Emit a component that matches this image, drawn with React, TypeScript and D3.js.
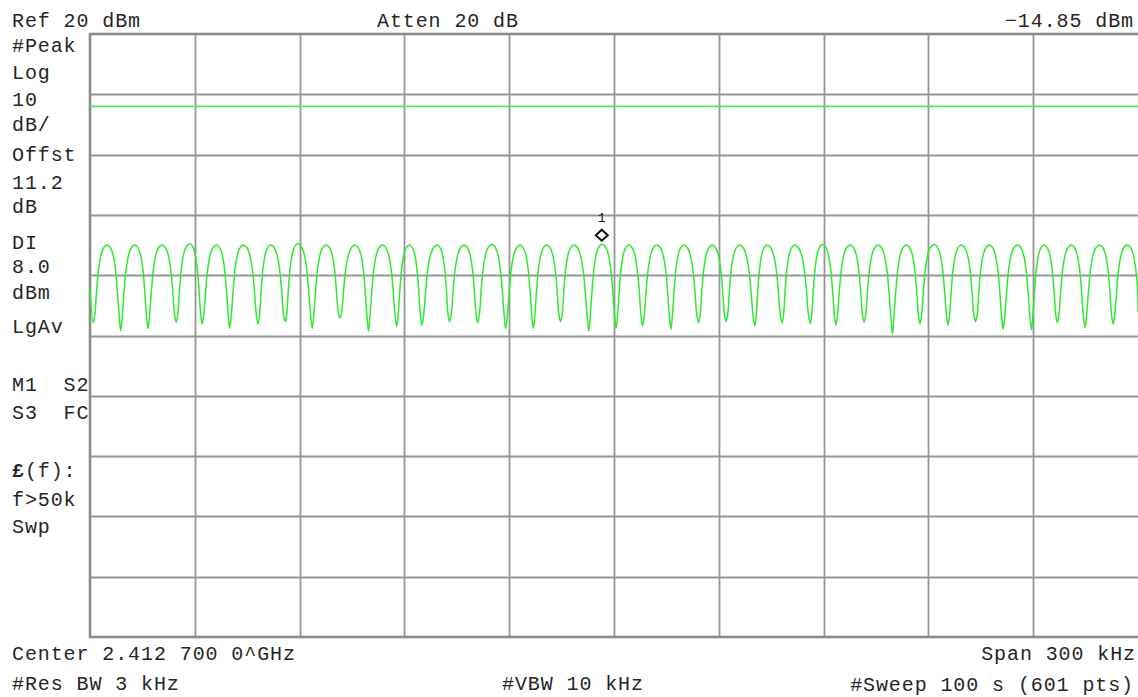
import React, { useRef, useEffect } from 'react';
import * as d3 from 'd3';

// Trace extrema (offset from centre in kHz, level in dBm)
const peakKHz = [
    -145.1, -137.2, -129.4, -121.5, -113.8, -106.1, -98.3, -90.5, -82.4, -74.1,
    -66.3, -58.6, -50.6, -42.9, -35.0, -26.9, -19.3, -11.5, -3.4, 4.2,
    12.3, 20.0, 28.1, 35.9, 43.8, 51.7, 59.7, 67.6, 75.6, 83.7,
    91.6, 99.4, 107.4, 115.5, 123.1, 130.9, 139.0, 146.9,
];
const peakDbm = [
    -15.0, -15.0, -15.0, -14.8, -15.0, -15.0, -15.0, -14.8, -15.0, -15.0,
    -15.0, -15.0, -15.0, -15.0, -14.9, -15.0, -15.0, -15.0, -14.85, -15.0,
    -15.0, -15.0, -15.0, -15.0, -15.0, -15.0, -14.9, -15.0, -15.0, -15.0,
    -14.9, -15.0, -15.0, -15.0, -15.0, -15.0, -15.0, -15.0,
];
const troughKHz = [
    -149.1, -141.2, -133.4, -125.3, -117.9, -110.0, -101.9, -94.1, -86.4, -78.5,
    -70.3, -62.2, -55.0, -47.1, -39.0, -31.0, -23.1, -15.3, -7.2, 0.6,
    8.2, 16.3, 24.2, 32.1, 40.3, 48.1, 56.2, 63.5, 71.6, 79.7,
    87.6, 95.6, 103.5, 111.4, 119.5, 126.9, 134.8, 142.9,
];
const troughDbm = [
    -27.9, -29.2, -28.9, -27.8, -28.1, -28.8, -28.1, -27.7, -28.8, -27.1,
    -29.3, -28.5, -28.3, -27.7, -27.9, -28.9, -28.8, -27.7, -29.3, -28.8,
    -28.4, -29.0, -27.9, -27.7, -28.4, -27.9, -28.0, -28.3, -27.8, -29.8,
    -28.1, -28.3, -27.7, -29.0, -29.1, -27.9, -28.7, -28.1,
];
const traceStartDbm = -22.1;
const traceEndDbm = -26.0;

// lobe profile: fraction of half-cycle from peak, dB below peak
const lobeFrac = [0.2, 0.4, 0.6, 0.75, 0.88];
const lobeDrop = [-0.3, -1.3, -3.8, -7.5, -11.5];

const displayLineDbm = 8.0;
const markerKHz = -3.5;
const markerDbm = -14.85;

const refLevel = 20;
const dbPerDiv = 10;
const spanKHz = 300;

const leftLabels = [
    '#Peak', 'Log', '10', 'dB/', 'Offst', '11.2', 'dB', 'DI', '8.0', 'dBm',
    'LgAv', 'M1  S2', 'S3  FC', '£(f):', 'f>50k', 'Swp',
];
const topLeft = 'Ref 20 dBm';
const topMid = 'Atten 20 dB';
const topRight = '\u221214.85 dBm';
const bottomLeft = 'Center 2.412 700 0^GHz';
const bottomRight = 'Span 300 kHz';
const footLeft = '#Res BW 3 kHz';
const footMid = '#VBW 10 kHz';
const footRight = '#Sweep 100 s (601 pts)';

const W = 1138;
const H = 697;

const SpectrumChart: React.FC = () => {
    const ref = useRef<SVGSVGElement | null>(null);

    useEffect(() => {
        if (!ref.current) return;
        const svg = d3.select(ref.current);
        svg.selectAll('*').remove();

        // ─── geometry ───────────────────────────────────────────
        const left = 90, right = 1138, top = 34, bottom = 637;
        const x = d3.scaleLinear().domain([-spanKHz / 2, spanKHz / 2]).range([left, right]);
        const y = d3.scaleLinear()
            .domain([refLevel - 10 * dbPerDiv, refLevel])
            .range([bottom, top]);

        const font = '"Liberation Mono", "DejaVu Sans Mono", monospace';
        const fs = 20;
        const textCol = '#262626';

        svg.append('rect').attr('width', W).attr('height', H).attr('fill', '#fff');

        // ─── graticule ──────────────────────────────────────────
        const g = svg.append('g');
        const xTicks = d3.range(1, 10).map(i => -spanKHz / 2 + i * spanKHz / 10);
        const yTicks = d3.range(1, 10).map(i => refLevel - i * dbPerDiv);

        g.selectAll('line.vx')
            .data(xTicks)
            .enter()
            .append('line')
            .attr('x1', d => Math.round(x(d)) + 0.5)
            .attr('x2', d => Math.round(x(d)) + 0.5)
            .attr('y1', top)
            .attr('y2', bottom)
            .attr('stroke', '#969696')
            .attr('stroke-width', 1.8);

        g.selectAll('line.hy')
            .data(yTicks)
            .enter()
            .append('line')
            .attr('x1', left)
            .attr('x2', right)
            .attr('y1', d => Math.round(y(d)) + 0.5)
            .attr('y2', d => Math.round(y(d)) + 0.5)
            .attr('stroke', '#969696')
            .attr('stroke-width', 1.8);

        g.append('rect')
            .attr('x', left)
            .attr('y', top)
            .attr('width', right - left + 4)
            .attr('height', bottom - top)
            .attr('fill', 'none')
            .attr('stroke', '#8a8a8a')
            .attr('stroke-width', 2.6);

        // ─── display line ───────────────────────────────────────
        svg.append('line')
            .attr('x1', left)
            .attr('x2', right)
            .attr('y1', y(displayLineDbm))
            .attr('y2', y(displayLineDbm))
            .attr('stroke', '#55e855')
            .attr('stroke-width', 1.8);

        // ─── trace vertices ─────────────────────────────────────
        const pts: [number, number][] = [[-spanKHz / 2, traceStartDbm], [troughKHz[0], troughDbm[0]]];
        peakKHz.forEach((pk, i) => {
            const lv = peakDbm[i];
            const half = pk - troughKHz[i];
            for (let k = lobeFrac.length - 1; k >= 0; k--) {
                pts.push([pk - lobeFrac[k] * half, Math.max(lv + lobeDrop[k], troughDbm[i] + 1)]);
            }
            pts.push([pk, lv]);
            if (i + 1 < troughKHz.length) {
                const h2 = troughKHz[i + 1] - pk;
                lobeFrac.forEach((f, k) =>
                    pts.push([pk + f * h2, Math.max(lv + lobeDrop[k], troughDbm[i + 1] + 1)]));
                pts.push([troughKHz[i + 1], troughDbm[i + 1]]);
            } else {
                lobeFrac.forEach((f, k) => {
                    if (pk + f * half < spanKHz / 2) pts.push([pk + f * half, lv + lobeDrop[k]]);
                });
                pts.push([spanKHz / 2, traceEndDbm]);
            }
        });

        const line = d3.line<[number, number]>()
            .x(d => x(d[0]))
            .y(d => y(d[1]))
            .curve(d3.curveCatmullRom.alpha(0.5));

        svg.append('path')
            .attr('d', line(pts) as string)
            .attr('fill', 'none')
            .attr('stroke', '#30e830')
            .attr('stroke-width', 1.5);

        // ─── marker 1 ───────────────────────────────────────────
        const mx = x(markerKHz);
        const my = y(markerDbm) - 9;
        svg.append('path')
            .attr('d', `M${mx},${my - 5.5}L${mx + 6},${my}L${mx},${my + 5.5}L${mx - 6},${my}Z`)
            .attr('fill', 'none')
            .attr('stroke', '#111')
            .attr('stroke-width', 2);
        svg.append('text')
            .attr('x', mx)
            .attr('y', my - 13)
            .attr('text-anchor', 'middle')
            .style('font-family', font)
            .style('font-size', '13px')
            .style('fill', '#111')
            .text('1');

        // ─── annotations ────────────────────────────────────────
        const txt = (s: string, tx: number, ty: number, anchor = 'start') =>
            svg.append('text')
                .attr('x', tx)
                .attr('y', ty)
                .attr('text-anchor', anchor)
                .style('font-family', font)
                .style('font-size', `${fs}px`)
                .style('letter-spacing', '0.9px')
                .style('white-space', 'pre')
                .style('fill', textCol)
                .text(s);

        txt(topLeft, 12, 27);
        txt(topMid, 377, 27);
        txt(topRight, 1134, 27, 'end');

        const rows = [52, 79, 106, 131, 161, 189, 213, 249, 273, 299, 333, 391, 419, 477, 506, 533];
        leftLabels.forEach((s, i) => {
            if (s.startsWith('£')) {
                const t = txt('', 12, rows[i]);
                t.append('tspan').style('font-weight', 'bold').text('£');
                t.append('tspan').text(s.slice(1));
            } else {
                txt(s, 12, rows[i]);
            }
        });

        txt(bottomLeft, 12, 660);
        txt(bottomRight, 1136, 660, 'end');
        txt(footLeft, 12, 690);
        txt(footMid, 502, 690);
        txt(footRight, 1134, 691, 'end');
    }, []);

    return (
        <svg
            ref={ref}
            width={W}
            height={H}
            style={{ position: 'fixed', left: 0, top: 0, display: 'block' }}
        />
    );
};

export default function App() {
    return <SpectrumChart />;
}
